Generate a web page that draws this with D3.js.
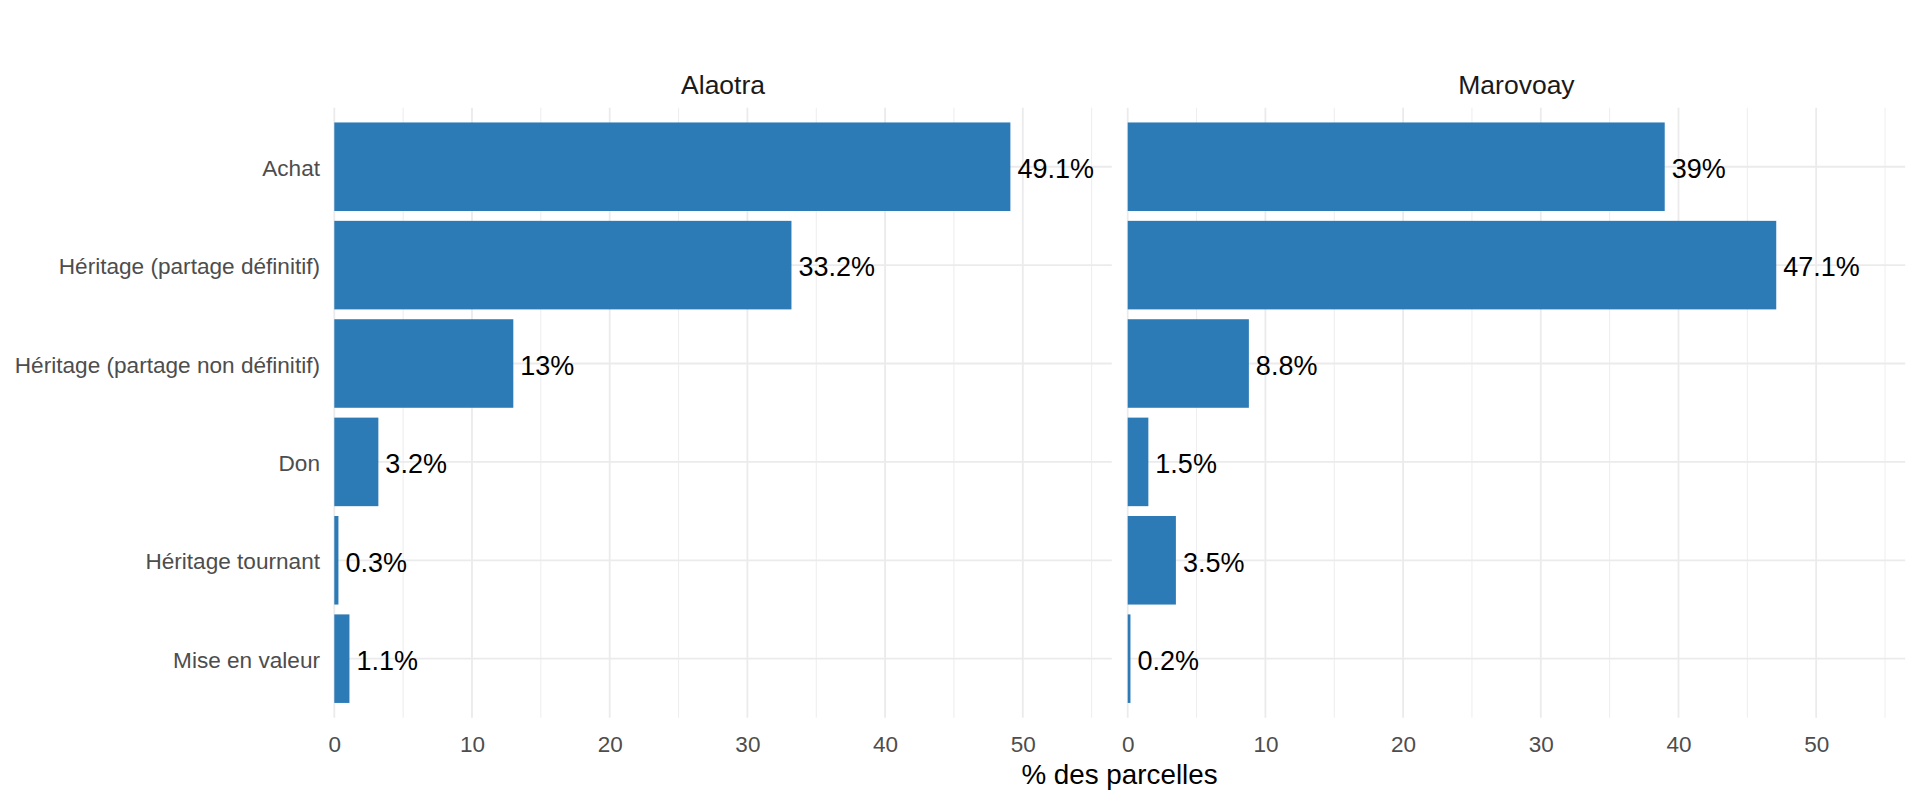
<!DOCTYPE html>
<html>
<head>
<meta charset="utf-8">
<script src="https://cdn.jsdelivr.net/npm/d3@7"></script>
<style>
body { margin: 0; background: #ffffff; }
svg { display: block; font-family: "Liberation Sans", Arial, sans-serif; }
</style>
</head>
<body>
<svg></svg>
<script>
var categories = ["Achat", "Héritage (partage définitif)", "Héritage (partage non définitif)", "Don", "Héritage tournant", "Mise en valeur"]
var regions = ["Alaotra", "Marovoay"]
var alaotraValues = [49.1, 33.2, 13, 3.2, 0.3, 1.1]
var marovoayValues = [39, 47.1, 8.8, 1.5, 3.5, 0.2]
var majorTicks = [0, 10, 20, 30, 40, 50]
var minorTicks = [5, 15, 25, 35, 45, 55]
var xTitle = "% des parcelles"

var screen = {width: 1920, height: 806}
var panels = [
    {name: regions[0], values: alaotraValues, left: 334.3},
    {name: regions[1], values: marovoayValues, left: 1127.7}
]
var panelWidth = 777.5
var panelTop = 107.7
var panelBottom = 717.7

var svg = d3.select("svg")
    .attr("width", screen.width)
    .attr("height", screen.height)

// shared max with 15% room on the right, like the original
var xMax = d3.max(alaotraValues.concat(marovoayValues)) * 1.15

var yScale = d3.scaleBand()
    .domain(categories)
    .range([panelTop, panelBottom])
    .paddingInner(0.1)
    .paddingOuter(0.15)

var drawPanel = function(panel)
{
    var xScale = d3.scaleLinear()
        .domain([0, xMax])
        .range([panel.left, panel.left + panelWidth])

    var g = svg.append("g")

    g.selectAll(".minor")
        .data(minorTicks)
        .enter()
        .append("line")
        .attr("x1", function(d) { return xScale(d) })
        .attr("x2", function(d) { return xScale(d) })
        .attr("y1", panelTop)
        .attr("y2", panelBottom)
        .attr("stroke", "#ebebeb")
        .attr("stroke-width", 0.9)

    g.selectAll(".major")
        .data(majorTicks)
        .enter()
        .append("line")
        .attr("x1", function(d) { return xScale(d) })
        .attr("x2", function(d) { return xScale(d) })
        .attr("y1", panelTop)
        .attr("y2", panelBottom)
        .attr("stroke", "#ebebeb")
        .attr("stroke-width", 1.8)

    g.selectAll(".hgrid")
        .data(categories)
        .enter()
        .append("line")
        .attr("x1", panel.left)
        .attr("x2", panel.left + panelWidth)
        .attr("y1", function(d) { return yScale(d) + yScale.bandwidth() / 2 })
        .attr("y2", function(d) { return yScale(d) + yScale.bandwidth() / 2 })
        .attr("stroke", "#ebebeb")
        .attr("stroke-width", 1.8)

    g.selectAll("rect")
        .data(panel.values)
        .enter()
        .append("rect")
        .attr("x", xScale(0))
        .attr("y", function(d, i) { return yScale(categories[i]) })
        .attr("width", function(d) { return xScale(d) - xScale(0) })
        .attr("height", yScale.bandwidth())
        .attr("fill", "#2c7bb6")

    g.selectAll(".lab")
        .data(panel.values)
        .enter()
        .append("text")
        .attr("x", function(d) { return xScale(d) + 7 })
        .attr("y", function(d, i) { return yScale(categories[i]) + yScale.bandwidth() / 2 })
        .attr("dy", "0.42em")
        .attr("font-size", 27)
        .attr("fill", "#000000")
        .text(function(d) { return d + "%" })

    var axis = d3.axisBottom(xScale)
        .tickValues(majorTicks)
        .tickSize(0)
        .tickPadding(0)
    var ax = g.append("g")
        .attr("transform", "translate(0," + panelBottom + ")")
        .call(axis)
    ax.select(".domain").remove()
    ax.selectAll("text")
        .attr("y", 34.5)
        .attr("dy", 0)
        .attr("font-size", 22.5)
        .attr("font-family", "Liberation Sans, Arial, sans-serif")
        .attr("fill", "#4d4d4d")

    g.append("text")
        .attr("x", panel.left + panelWidth / 2)
        .attr("y", 94.3)
        .attr("text-anchor", "middle")
        .attr("font-size", 26.5)
        .attr("fill", "#1a1a1a")
        .text(panel.name)
}

panels.forEach(drawPanel)

svg.append("g")
    .selectAll("text")
    .data(categories)
    .enter()
    .append("text")
    .attr("x", 320)
    .attr("y", function(d) { return yScale(d) + yScale.bandwidth() / 2 })
    .attr("dy", "0.4em")
    .attr("text-anchor", "end")
    .attr("font-size", 22.6)
    .attr("fill", "#4d4d4d")
    .text(function(d) { return d })

svg.append("text")
    .attr("x", 1119.5)
    .attr("y", 784)
    .attr("text-anchor", "middle")
    .attr("font-size", 27.8)
    .attr("fill", "#000000")
    .text(xTitle)
</script>
</body>
</html>
